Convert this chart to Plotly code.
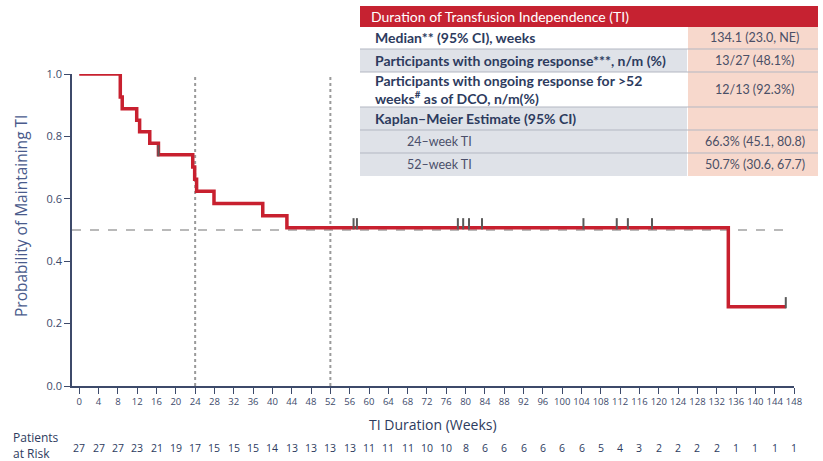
import numpy as np
import plotly.graph_objects as go

# ---------------- data ----------------
event_weeks = [0, 8.5, 8.9, 11.9, 12.5, 14.6, 16.4, 23.5, 23.9, 24.3, 27.9, 38.0, 43.0, 134.4, 146.3]
survival = [1.0, 0.926, 0.889, 0.852, 0.815, 0.778, 0.741, 0.702, 0.663, 0.624, 0.585, 0.546, 0.507, 0.254, 0.254]
censor_weeks = [16.4, 56.8, 57.5, 78.4, 79.5, 80.7, 83.4, 104.4, 111.3, 113.6, 118.6, 146.3]

risk_weeks = list(range(0, 149, 4))
at_risk = [27, 27, 27, 23, 21, 19, 17, 15, 15, 15, 14, 13, 13, 13, 13, 11, 11, 11,
           10, 10, 8, 6, 6, 6, 6, 6, 6, 5, 4, 3, 2, 2, 2, 2, 1, 1, 1, 1]

landmark_weeks = [24, 52]
median_level = 0.5

y_ticks = [0.0, 0.2, 0.4, 0.6, 0.8, 1.0]

table_title = "Duration of Transfusion Independence (TI)"
row_labels = [
    "Median** (95% CI), weeks",
    "Participants with ongoing response***, n/m (%)",
    "Participants with ongoing response for >52<br>weeks<sup>#</sup> as of DCO, n/m(%)",
    "Kaplan–Meier Estimate (95% CI)",
    "24–week TI",
    "52–week TI",
]
row_values = ["134.1 (23.0, NE)", "13/27 (48.1%)", "12/13 (92.3%)", "",
              "66.3% (45.1, 80.8)", "50.7% (30.6, 67.7)"]

# ---------------- layout helpers ----------------
W, H = 823, 461
L, R, T, B = 72, 794, 74, 386


def px(x):
    return (x - L) / (R - L)


def py(y):
    return (B - y) / (B - T)


NAVY = "#2d3b5e"
AXIS = "#3d4a6a"
RED = "#c8202f"

fig = go.Figure()

# KM curve
fig.add_trace(go.Scatter(
    x=event_weeks, y=survival, mode="lines", line_shape="hv",
    line=dict(color=RED, width=3.5), cliponaxis=False, hoverinfo="skip",
    showlegend=False))

# censor marks (placed on the curve value at that time)
ev = np.array(event_weeks)
sv = np.array(survival)
cens_y = [sv[np.searchsorted(ev, c, side="right") - 1] + 0.013 for c in censor_weeks]
fig.add_trace(go.Scatter(
    x=censor_weeks, y=cens_y, mode="markers", cliponaxis=False,
    marker=dict(symbol="line-ns", size=8, line=dict(width=2, color="#5a5a5a")),
    hoverinfo="skip", showlegend=False))

# reference lines
for w in landmark_weeks:
    fig.add_shape(type="line", xref="x", yref="y", x0=w, x1=w, y0=0, y1=1.0,
                  line=dict(color="#9a9a9a", width=2, dash="dot"), layer="below")
fig.add_shape(type="line", xref="x", yref="y", x0=-1.5, x1=147, y0=median_level, y1=median_level,
              line=dict(color="#a3a3a3", width=1.5, dash="dash"), layer="below")

# ---------------- table ----------------
tx0, tx1, tdiv = 360, 818, 687
row_edges = [27, 49, 72, 107, 130, 153, 176]
left_fills = ["#ffffff", "#dfe2e8", "#ffffff", "#dfe2e8", "#dfe2e8", "#dfe2e8"]
PEACH = "#f7d8cc"

fig.add_shape(type="rect", xref="paper", yref="paper", x0=px(tx0), x1=px(tx1),
              y0=py(27), y1=py(6), fillcolor="#c62231", line=dict(width=0))
fig.add_annotation(xref="paper", yref="paper", x=px(369), y=py(16.5), xanchor="left",
                   yanchor="middle", showarrow=False, text=table_title,
                   font=dict(family="Lato", size=14, color="#ffffff"))

for i, lab in enumerate(row_labels):
    y0, y1 = row_edges[i], row_edges[i + 1]
    fig.add_shape(type="rect", xref="paper", yref="paper", x0=px(tx0), x1=px(tdiv),
                  y0=py(y1), y1=py(y0), fillcolor=left_fills[i], line=dict(width=0))
    fig.add_shape(type="rect", xref="paper", yref="paper", x0=px(tdiv + 1), x1=px(tx1),
                  y0=py(y1), y1=py(y0), fillcolor=PEACH, line=dict(width=0))
    if i > 0:
        fig.add_shape(type="line", xref="paper", yref="paper", x0=px(tx0), x1=px(tx1),
                      y0=py(y0), y1=py(y0), line=dict(color="#b3b7c2", width=1))
    indent = i >= 4
    txt = lab if indent else "<b>" + lab + "</b>"
    fig.add_annotation(xref="paper", yref="paper", x=px(405 if indent else 373),
                       y=py((y0 + y1) / 2), xanchor="left", yanchor="middle",
                       align="left", showarrow=False, text=txt,
                       font=dict(family="Lato", size=12.5 if indent else 14,
                                 color="#4a4f6a" if indent else NAVY))
    if row_values[i]:
        fig.add_annotation(xref="paper", yref="paper", x=px((tdiv + tx1) / 2 + 2),
                           y=py((y0 + y1) / 2), xanchor="center", yanchor="middle",
                           showarrow=False, text=row_values[i],
                           font=dict(family="Lato", size=12.5, color="#4a4f66"))

# ---------------- axis titles / at-risk ----------------
fig.add_annotation(xref="paper", yref="paper", x=px(433), y=py(424), xanchor="center",
                   yanchor="middle", showarrow=False, text="TI Duration (Weeks)",
                   font=dict(family="Open Sans", size=14, color=NAVY))
fig.add_annotation(xref="paper", yref="paper", x=px(21), y=py(216), xanchor="center",
                   yanchor="middle", showarrow=False, textangle=-90,
                   text="Probability of Maintaining TI",
                   font=dict(family="Open Sans", size=15.5, color="#4a5b8c"))
fig.add_annotation(xref="paper", yref="paper", x=px(11), y=py(445), xanchor="left",
                   yanchor="middle", showarrow=False, align="left",
                   text="Patients<br>at Risk",
                   font=dict(family="Open Sans", size=12, color=NAVY))
for w, n in zip(risk_weeks, at_risk):
    fig.add_annotation(xref="x", yref="paper", x=w, y=py(448), xanchor="center",
                       yanchor="middle", showarrow=False, text=str(n),
                       font=dict(family="Open Sans", size=10.5, color=NAVY))

fig.update_xaxes(range=[-1.5, 148], tickvals=risk_weeks, ticks="outside", ticklen=6,
                 tickwidth=1.3, tickcolor=AXIS, showline=True, linecolor=AXIS, linewidth=1.5,
                 showgrid=False, zeroline=False,
                 tickfont=dict(family="Open Sans", size=9.5, color=AXIS))
fig.update_yaxes(range=[0, 1.0], tickvals=y_ticks, tickformat=".1f", ticks="outside",
                 ticklen=6, tickwidth=1.3, tickcolor=AXIS, showline=True, linecolor=AXIS,
                 linewidth=1.5, showgrid=False, zeroline=False,
                 tickfont=dict(family="Open Sans", size=11, color=AXIS))

fig.update_layout(width=W, height=H, margin=dict(l=L, r=W - R, t=T, b=H - B),
                  paper_bgcolor="white", plot_bgcolor="white", showlegend=False)

fig.write_html("out.html", config={"displayModeBar": False},
               post_script="document.body.style.margin='0';document.body.style.overflow='hidden';")
